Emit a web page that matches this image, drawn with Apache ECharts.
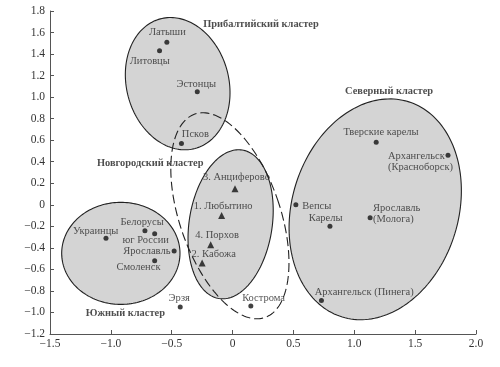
<!DOCTYPE html>
<html>
<head>
<meta charset="utf-8">
<script src="https://cdn.jsdelivr.net/npm/echarts@6/dist/echarts.min.js"></script>
<style>html,body{margin:0;padding:0;background:#fff}#c{width:500px;height:367px}</style>
</head>
<body>
<div id="c"></div>
<script>
// ---- data ----
const dotNames = ['Латыши','Литовцы','Эстонцы','Псков','Тверские карелы','Архангельск\n(Красноборск)','Вепсы','Карелы','Ярославль\n(Молога)','Архангельск (Пинега)','Кострома','Эрзя','Украинцы','Белорусы','юг России','Ярославль','Смоленск'];
const dotX = [-0.54,-0.60,-0.29,-0.42,1.18,1.77,0.52,0.80,1.13,0.73,0.15,-0.43,-1.04,-0.72,-0.64,-0.48,-0.64];
const dotY = [1.51,1.43,1.05,0.57,0.58,0.46,0.00,-0.20,-0.12,-0.89,-0.94,-0.95,-0.31,-0.24,-0.27,-0.43,-0.52];
const triNames = ['3. Анциферово','1. Любытино','4. Порхов','2. Кабожа'];
const triX = [0.02,-0.09,-0.18,-0.25];
const triY = [0.15,-0.10,-0.37,-0.54];
const clusterNames = ['Прибалтийский кластер','Северный кластер','Новгородский кластер','Южный кластер'];
const clusterX = [0.233,1.286,-0.677,-0.881];
const clusterY = [1.673,1.053,0.381,-1.006];
const xTicks = {min:-1.5,max:2.0,step:0.5};
const yTicks = {min:-1.2,max:1.8,step:0.2};

// ---- layout (label placement, cluster outlines) ----
const labelLayout = {
 'Латыши':[0.5,-9.7,'center'],'Литовцы':[-9.8,10.4,'center'],'Эстонцы':[-1,-8,'center'],
 'Псков':[0.4,-9,'left'],'Тверские карелы':[4.8,-10,'center'],
 'Архангельск\n(Красноборск)':[-60,6.9,'left'],'Вепсы':[6.4,1.7,'left'],'Карелы':[-4.3,-8,'center'],
 'Ярославль\n(Молога)':[3,-4,'left'],'Архангельск (Пинега)':[-6.7,-8.7,'left'],'Кострома':[-8.7,-7.4,'left'],
 'Эрзя':[-1,-8.4,'center'],'Украинцы':[-10.3,-7.3,'center'],'Белорусы':[-2.8,-8.7,'center'],
 'юг России':[-9,6.7,'center'],'Ярославль':[-3.7,0,'right'],'Смоленск':[-16.2,6.3,'center'],
 '3. Анциферово':[1.4,-11,'center'],'1. Любытино':[1.5,-9.7,'center'],'4. Порхов':[6.4,-9.3,'center'],'2. Кабожа':[11.6,-9,'center']
};
const outlines = [
 {cx:-0.451, cy:1.125, rx:0.42, ry:0.623, rot:-15, fill:'#d4d4d4', dash:null},
 {cx:1.172, cy:-0.042, rx:0.684, ry:1.046, rot:17, fill:'#d4d4d4', dash:null},
 {cx:-0.918, cy:-0.451, rx:0.486, ry:0.474, rot:0, fill:'#d4d4d4', dash:null},
 {cx:-0.016, cy:-0.181, rx:0.341, ry:0.698, rot:8.8, fill:'#d4d4d4', dash:null},
 {cx:-0.022, cy:-0.102, rx:0.4135, ry:0.999, rot:-19, fill:'none', dash:[9,4]}
];

const FONT = '"Liberation Serif", "DejaVu Serif", serif';
function fmt(v){ if (Math.abs(v) < 1e-9) return '0'; return v.toFixed(1).replace('-', '\u2212'); }

function pointData(names, xs, ys){
  return names.map((n,i)=>{
    const l = labelLayout[n] || [0,-9,'center'];
    return {name:n, value:[xs[i], ys[i]], label:{offset:[l[0], l[1]], align:l[2]}};
  });
}

function renderOutline(params, api){
  const e = outlines[params.dataIndex];
  const c = api.coord([e.cx, e.cy]);
  const rx = api.size([e.rx, 0])[0];
  const ry = api.size([0, e.ry])[1];
  const a = e.rot * Math.PI / 180, ca = Math.cos(a), sa = Math.sin(a);
  const pts = [];
  for (let k=0;k<180;k++){
    const t = k/180*2*Math.PI;
    const x = rx*Math.cos(t), y = ry*Math.sin(t);
    pts.push([c[0] + x*ca - y*sa, c[1] + x*sa + y*ca]);
  }
  return {type:'polygon', shape:{points:pts}, z2: e.dash ? 5 : 1,
    style:{fill: e.fill === 'none' ? null : e.fill, stroke:'#222', lineWidth:1.1, lineDash: e.dash || null}};
}

const labelStyle = {show:true, position:'inside', formatter:'{b}', fontFamily:FONT, fontSize:10.5, color:'#2a2a2a', verticalAlign:'middle', lineHeight:11};

const option = {
  animation:false,
  grid:{left:50, right:24, top:11, bottom:33},
  xAxis:{type:'value', min:xTicks.min, max:xTicks.max, interval:xTicks.step,
    splitLine:{show:false},
    axisLine:{onZero:false, lineStyle:{color:'#555', width:1}},
    axisTick:{inside:true, length:4, lineStyle:{color:'#555'}},
    axisLabel:{formatter:fmt, fontFamily:FONT, fontSize:11.5, color:'#333', margin:4}},
  yAxis:{type:'value', min:yTicks.min, max:yTicks.max, interval:yTicks.step,
    splitLine:{show:false},
    axisLine:{show:true, onZero:false, lineStyle:{color:'#555', width:1}},
    axisTick:{show:true, inside:true, length:4, lineStyle:{color:'#555'}},
    axisLabel:{formatter:fmt, fontFamily:FONT, fontSize:11.5, color:'#333', margin:5}},
  series:[
    {type:'custom', renderItem:renderOutline, clip:false, silent:true, z:1,
     data: outlines.map(o=>[o.cx,o.cy])},
    {type:'scatter', symbol:'circle', symbolSize:5, z:3, itemStyle:{color:'#111'},
     label:labelStyle, data: pointData(dotNames, dotX, dotY)},
    {type:'scatter', symbol:'triangle', symbolSize:7, z:3, itemStyle:{color:'#111'},
     label:labelStyle, data: pointData(triNames, triX, triY)},
    {type:'scatter', symbolSize:0, z:4, silent:true,
     label:{show:true, position:'inside', formatter:'{b}', fontFamily:FONT, fontSize:10.4, fontWeight:'bold', color:'#222'},
     data: clusterNames.map((n,i)=>({name:n, value:[clusterX[i], clusterY[i]]}))}
  ]
};
echarts.init(document.getElementById('c'), null, {renderer:'canvas'}).setOption(option);
</script>
</body>
</html>
